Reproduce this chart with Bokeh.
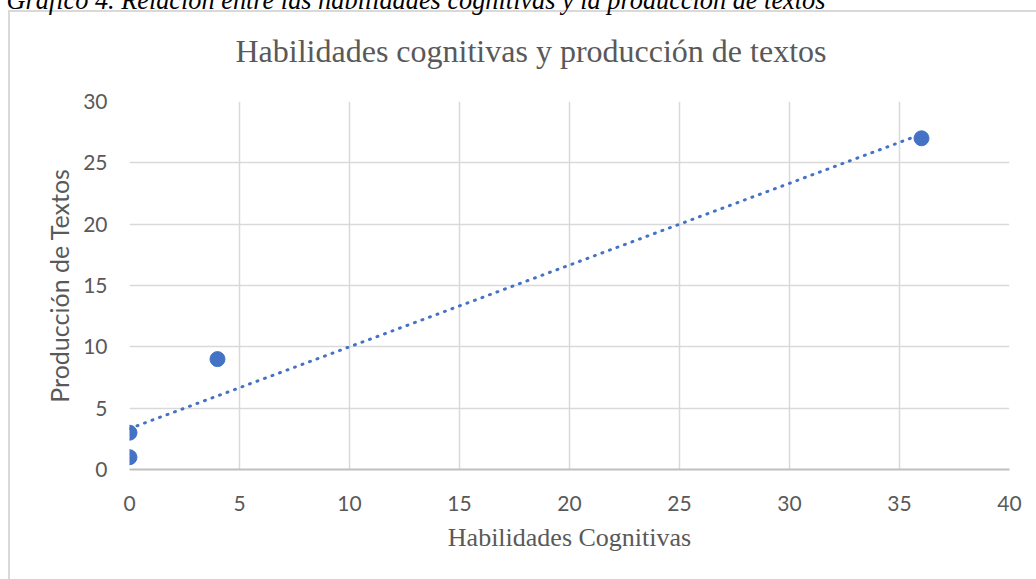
import numpy as np
from bokeh.plotting import figure
from bokeh.models import Range1d, FixedTicker, Title
from bokeh.embed import file_html
from bokeh.resources import INLINE

# ---- data ----
habilidades = [0, 0, 4, 36]
produccion = [1, 3, 9, 27]
x_ticks = [0, 5, 10, 15, 20, 25, 30, 35, 40]
y_ticks = [0, 5, 10, 15, 20, 25, 30]
title_text = "Habilidades cognitivas y producción de textos"
x_label = "Habilidades Cognitivas"
y_label = "Producción de Textos"
caption_text = "Gráfico 4. Relación entre las habilidades cognitivas y la producción de textos"

# ---- layout (pixels) ----
W, H = 1036, 579
FL, FR, FT, FB = 129, 1009, 101, 469
X0, X1, Y0, Y1 = 0, 40, 0, 30

BLUE = "#4472C4"
GRAY_TXT = "#595959"
BORDER = "#d9d9d9"

p = figure(width=W, height=H, output_backend="svg", toolbar_location=None,
           x_range=Range1d(X0, X1), y_range=Range1d(Y0, Y1),
           min_border_left=FL, min_border_right=W - FR,
           min_border_top=FT, min_border_bottom=H - FB)
p.outline_line_color = None
p.background_fill_color = "white"
p.border_fill_alpha = 0
# outer chart box (only its left and top edges fall inside the window)
p.styles = {
    "background": (f"linear-gradient({BORDER},{BORDER}) 8px 10px / 2px 100% no-repeat, "
                   f"linear-gradient({BORDER},{BORDER}) 8px 10px / 100% 2px no-repeat, white")
}

# grid
p.xgrid.ticker = FixedTicker(ticks=x_ticks)
p.ygrid.ticker = FixedTicker(ticks=y_ticks)
for g in (p.xgrid, p.ygrid):
    g.grid_line_color = "#d9d9d9"
    g.grid_line_width = 1.5

# axes
p.xaxis.ticker = FixedTicker(ticks=x_ticks)
p.yaxis.ticker = FixedTicker(ticks=y_ticks)
for ax in (p.xaxis, p.yaxis):
    ax.major_tick_line_color = None
    ax.minor_tick_line_color = None
    ax.major_label_text_font = "Lato"
    ax.major_label_text_font_size = "21px"
    ax.major_label_text_color = GRAY_TXT
p.xaxis.axis_line_color = "#bfbfbf"
p.xaxis.axis_line_width = 2
p.yaxis.axis_line_color = None
p.yaxis.major_label_standoff = 16
p.xaxis.major_label_standoff = 20

p.xaxis.axis_label = x_label
p.xaxis.axis_label_text_font = "Liberation Serif"
p.xaxis.axis_label_text_font_style = "normal"
p.xaxis.axis_label_text_font_size = "26px"
p.xaxis.axis_label_text_color = GRAY_TXT
p.xaxis.axis_label_standoff = 9

p.yaxis.axis_label = y_label
p.yaxis.axis_label_text_font = "Lato"
p.yaxis.axis_label_text_font_style = "normal"
p.yaxis.axis_label_text_font_size = "25px"
p.yaxis.axis_label_text_color = GRAY_TXT
p.yaxis.axis_label_standoff = 6

# trend line (least squares from the data)
slope, intercept = np.polyfit(habilidades, produccion, 1)
tx = np.array([min(habilidades), max(habilidades)], dtype=float)
p.line(tx, slope * tx + intercept, line_color=BLUE, line_width=3,
       line_dash="1 7", line_cap="round")

p.scatter(habilidades, produccion, size=15, fill_color=BLUE, line_color=BLUE)

# titles: first added is nearest the frame
p.add_layout(Title(text=title_text, align="left", offset=235 - FL,
                   vertical_align="top", standoff=62,
                   text_font="Liberation Serif", text_font_style="normal",
                   text_font_size="32px", text_color=GRAY_TXT), "above")
# document caption, cut off by the top of the window as in the source
p.add_layout(Title(text=caption_text, align="left", offset=-FL + 6,
                   vertical_align="top", standoff=-30,
                   text_font="Liberation Serif", text_font_style="italic",
                   text_font_size="26.3px", text_color="black"), "above")

open("out.html", "w").write(file_html(p, INLINE))
